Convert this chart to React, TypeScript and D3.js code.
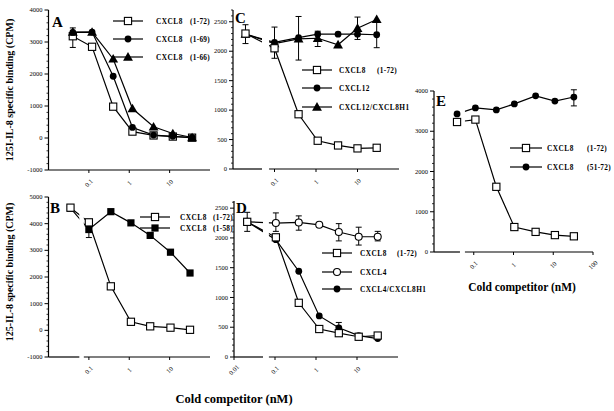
import React from 'react';
import * as d3 from 'd3';

const W = 614;
const H = 411;
const FONT = "'Liberation Serif','Times New Roman',Times,serif";

// ---------- DATA ----------
// Panel A
const concA = [0.04, 0.12, 0.4, 1.2, 4, 12, 36];
const a_1_72 = [3180, 2850, 980, 200, 80, 45, 10];
const a_1_69 = [3300, 3310, 1930, 330, 90, 55, 15];
const a_1_66 = [3310, 3310, 2470, 920, 350, 140, 15];
const errA_1_72 = [[0, 2830, 3440]];

// Panel B
const concB = [0.035, 0.1, 0.35, 1.1, 3.3, 10.5, 32];
const b_1_72 = [4600, 4050, 1650, 320, 150, 100, 20];
const b_1_58 = [4580, 3780, 4450, 4030, 3560, 2930, 2150];
const errB_1_58 = [[1, 3480, 4080]];

// Panel C
const concC = [0.02, 0.1, 0.38, 1.1, 3.4, 10, 29];
const c_1_72 = [2300, 2050, 930, 480, 400, 350, 360];
const c_12 = [2290, 2150, 2230, 2290, 2290, 2290, 2280];
const c_12h1 = [2290, 2130, 2210, 2220, 2110, 2390, 2540];
const errC_1_72 = [[0, 2130, 2450]];
const errC_12 = [[6, 2060, 2500]];
const errC_12h1 = [[1, 1880, 2410], [2, 1850, 2590], [3, 2080, 2340], [5, 2200, 2580]];

// Panel D
const concD = [0.021, 0.105, 0.38, 1.2, 3.6, 11, 32];
const d_1_72 = [2270, 2010, 910, 470, 400, 340, 360];
const d_4 = [2270, 2250, 2260, 2220, 2100, 2020, 2020];
const d_4h1 = [2270, 1970, 1440, 690, 490, 360, 310];
const errD_1_72 = [[0, 2110, 2430]];
const errD_4 = [[1, 2110, 2420], [2, 2130, 2370], [4, 1950, 2240], [5, 1880, 2180], [6, 1950, 2110]];
const errD_4h1 = [[4, 420, 580]];

// Panel E
const concE = [0.038, 0.11, 0.37, 1.05, 3.6, 11, 33];
const e_1_72 = [3230, 3290, 1620, 620, 500, 420, 390];
const e_51_72 = [3430, 3580, 3530, 3680, 3880, 3750, 3850];
const errE_51_72 = [[6, 3630, 4030]];

// Tick labels
const xTicksABC = [0.1, 1, 10];
const xTicksD = [0.01, 0.1, 1, 10];
const xTicksE = [0.1, 1, 10, 100];
const yTicksA = [-1000, 0, 1000, 2000, 3000, 4000];
const yTicksB = [-1000, 0, 1000, 2000, 3000, 4000, 5000];
const yTicksCD = [0, 500, 1000, 1500, 2000, 2500];
const yTicksE = [0, 1000, 2000, 3000, 4000];

// Legend labels
const legA = [['CXCL8', '(1-72)'], ['CXCL8', '(1-69)'], ['CXCL8', '(1-66)']];
const legB = [['CXCL8', '(1-72)'], ['CXCL8', '(1-58)']];
const legC = [['CXCL8', '(1-72)'], ['CXCL12', ''], ['CXCL12/CXCL8H1', '']];
const legD = [['CXCL8', '(1-72)'], ['CXCL4', ''], ['CXCL4/CXCL8H1', '']];
const legE = [['CXCL8', '(1-72)'], ['CXCL8', '(51-72)']];

const yLabelA = '125I-IL-8 specific binding (CPM)';
const yLabelB = '125-IL-8 specific binding (CPM)';
const xLabel = 'Cold competitor (nM)';

// ---------- RENDERING ----------
type Series = { conc: number[]; vals: number[]; marker: string; errs: number[][]; leg: number };

function Marker({ type, x, y }: { type: string; x: number; y: number }) {
  if (type === 'sq-open') return <rect x={x - 3.6} y={y - 3.6} width={7.2} height={7.2} fill="#fff" stroke="#000" strokeWidth={1.1} />;
  if (type === 'sq-fill') return <rect x={x - 3.6} y={y - 3.6} width={7.2} height={7.2} fill="#000" />;
  if (type === 'circ-fill') return <circle cx={x} cy={y} r={3.4} fill="#000" />;
  if (type === 'circ-open') return <circle cx={x} cy={y} r={3.5} fill="#fff" stroke="#000" strokeWidth={1.1} />;
  if (type === 'tri-fill') {
    const p = d3.symbol().type(d3.symbolTriangle).size(42)();
    return <path d={p || ''} transform={`translate(${x},${y + 0.8})`} fill="#000" />;
  }
  return null;
}

type PanelCfg = {
  id: string;
  letter: string;
  letterPos: [number, number];
  xRange: [number, number];
  yDomain: [number, number];
  yRange: [number, number];
  yTicks: number[];
  minor: number;
  xTicks: number[];
  gap: [number, number] | null;
  series: Series[];
  legend: string[][];
  legendMarkers: string[];
  legendRows: number[];
  legendLine: [number, number];
  legendText: number;
  legendSuffix: number;
};

function Panel({ cfg }: { cfg: PanelCfg }) {
  const xs = d3.scaleLog().domain([0.01, 100]).range(cfg.xRange);
  const ys = d3.scaleLinear().domain(cfg.yDomain).range(cfg.yRange);
  const ax = xs(0.01);
  const ay = cfg.yRange[0];
  const line = d3.line<[number, number]>().x((d) => xs(d[0])).y((d) => ys(d[1]));
  const clipId = `clip-${cfg.id}`;
  const g0 = cfg.gap ? xs(cfg.gap[0]) : 0;
  const g1 = cfg.gap ? xs(cfg.gap[1]) : 0;
  const xEnd = xs(100);
  const minors: number[] = [];
  for (let v = cfg.yDomain[0]; v <= cfg.yDomain[1] + 1e-6; v += cfg.minor) {
    if (!cfg.yTicks.includes(v)) minors.push(v);
  }
  return (
    <g>
      {cfg.gap && (
        <clipPath id={clipId}>
          <rect x={0} y={0} width={g0} height={H} />
          <rect x={g1} y={0} width={W - g1} height={H} />
        </clipPath>
      )}
      {/* axes */}
      <line x1={ax} x2={ax} y1={cfg.yRange[1]} y2={ay} stroke="#000" strokeWidth={1.2} />
      {cfg.gap ? (
        <>
          <line x1={ax} x2={g0} y1={ay} y2={ay} stroke="#000" strokeWidth={1.2} />
          <line x1={g1} x2={xEnd} y1={ay} y2={ay} stroke="#000" strokeWidth={1.2} />
        </>
      ) : (
        <line x1={ax} x2={xEnd} y1={ay} y2={ay} stroke="#000" strokeWidth={1.2} />
      )}
      {cfg.yTicks.map((t) => (
        <g key={`yt${t}`}>
          <line x1={ax - 4} x2={ax} y1={ys(t)} y2={ys(t)} stroke="#000" strokeWidth={1} />
          <text x={ax - 6} y={ys(t)} dy="0.33em" textAnchor="end" fontSize={6.5} fontFamily={FONT}>{t}</text>
        </g>
      ))}
      {minors.map((t) => (
        <line key={`ym${t}`} x1={ax - 2} x2={ax} y1={ys(t)} y2={ys(t)} stroke="#000" strokeWidth={0.8} />
      ))}
      {cfg.xTicks.map((t) => (
        <g key={`xt${t}`}>
          <line x1={xs(t)} x2={xs(t)} y1={ay} y2={ay + 3} stroke="#000" strokeWidth={1} />
          <text
            transform={`translate(${xs(t)},${ay + 13}) rotate(-45)`}
            textAnchor="middle"
            dy="0.33em"
            fontSize={6.5}
            fontFamily={FONT}
          >
            {String(t)}
          </text>
        </g>
      ))}
      {/* lines */}
      <g clipPath={cfg.gap ? `url(#${clipId})` : undefined}>
        {cfg.series.map((s, i) => (
          <path
            key={`l${i}`}
            d={line(s.conc.map((c, j) => [c, s.vals[j]] as [number, number])) || ''}
            fill="none"
            stroke="#000"
            strokeWidth={1.2}
          />
        ))}
      </g>
      {/* error bars */}
      {cfg.series.map((s, i) =>
        s.errs.map((e, k) => {
          const x = xs(s.conc[e[0]]);
          return (
            <g key={`e${i}-${k}`} stroke="#000" strokeWidth={1}>
              <line x1={x} x2={x} y1={ys(e[1])} y2={ys(e[2])} />
              <line x1={x - 3} x2={x + 3} y1={ys(e[1])} y2={ys(e[1])} />
              <line x1={x - 3} x2={x + 3} y1={ys(e[2])} y2={ys(e[2])} />
            </g>
          );
        })
      )}
      {/* markers */}
      {cfg.series.map((s, i) =>
        s.conc.map((c, j) => <Marker key={`m${i}-${j}`} type={s.marker} x={xs(c)} y={ys(s.vals[j])} />)
      )}
      {/* letter */}
      <text x={cfg.letterPos[0]} y={cfg.letterPos[1]} fontSize={15} fontWeight="bold" fontFamily={FONT}>
        {cfg.letter}
      </text>
      {/* legend */}
      {cfg.legend.map((lab, i) => {
        const y = cfg.legendRows[i];
        const mx = (cfg.legendLine[0] + cfg.legendLine[1]) / 2;
        return (
          <g key={`lg${i}`}>
            <line x1={cfg.legendLine[0]} x2={cfg.legendLine[1]} y1={y} y2={y} stroke="#000" strokeWidth={1.2} />
            <Marker type={cfg.legendMarkers[i]} x={mx} y={y} />
            <text x={cfg.legendText} y={y} dy="0.35em" fontSize={7.3} fontWeight="bold" letterSpacing={0.5} fontFamily={FONT}>
              {lab[0]}
            </text>
            {lab[1] && (
              <text x={cfg.legendText + cfg.legendSuffix} y={y} dy="0.35em" fontSize={7.3} fontWeight="bold" letterSpacing={0.3} fontFamily={FONT}>
                {lab[1]}
              </text>
            )}
          </g>
        );
      })}
    </g>
  );
}

export default function App() {
  const panels: PanelCfg[] = [
    {
      id: 'A', letter: 'A', letterPos: [52, 27],
      xRange: [48.5, 210], yDomain: [-1000, 4000], yRange: [170, 10], yTicks: yTicksA, minor: 200,
      xTicks: xTicksABC, gap: null,
      series: [
        { conc: concA, vals: a_1_72, marker: 'sq-open', errs: errA_1_72, leg: 0 },
        { conc: concA, vals: a_1_69, marker: 'circ-fill', errs: [], leg: 1 },
        { conc: concA, vals: a_1_66, marker: 'tri-fill', errs: [], leg: 2 },
      ],
      legend: legA, legendMarkers: ['sq-open', 'circ-fill', 'tri-fill'], legendRows: [21, 39, 57],
      legendLine: [113, 143], legendText: 156, legendSuffix: 34,
    },
    {
      id: 'B', letter: 'B', letterPos: [50, 213],
      xRange: [48.5, 210], yDomain: [-1000, 5000], yRange: [357, 197], yTicks: yTicksB, minor: 200,
      xTicks: xTicksABC, gap: [0.058, 0.075],
      series: [
        { conc: concB, vals: b_1_58, marker: 'sq-fill', errs: errB_1_58, leg: 1 },
        { conc: concB, vals: b_1_72, marker: 'sq-open', errs: [], leg: 0 },
      ],
      legend: legB, legendMarkers: ['sq-open', 'sq-fill'], legendRows: [217, 228],
      legendLine: [140, 170], legendText: 180, legendSuffix: 33,
    },
    {
      id: 'C', letter: 'C', letterPos: [235, 23],
      xRange: [233, 399], yDomain: [0, 2700], yRange: [169, 10], yTicks: yTicksCD, minor: 100,
      xTicks: xTicksABC, gap: [0.05, 0.074],
      series: [
        { conc: concC, vals: c_12, marker: 'circ-fill', errs: errC_12, leg: 1 },
        { conc: concC, vals: c_12h1, marker: 'tri-fill', errs: errC_12h1, leg: 2 },
        { conc: concC, vals: c_1_72, marker: 'sq-open', errs: errC_1_72, leg: 0 },
      ],
      legend: legC, legendMarkers: ['sq-open', 'circ-fill', 'tri-fill'], legendRows: [70, 88, 107],
      legendLine: [302, 332], legendText: 339, legendSuffix: 38,
    },
    {
      id: 'D', letter: 'D', letterPos: [236, 213],
      xRange: [234, 398], yDomain: [0, 2620], yRange: [357, 201], yTicks: yTicksCD, minor: 100,
      xTicks: xTicksD, gap: [0.051, 0.071],
      series: [
        { conc: concD, vals: d_4, marker: 'circ-open', errs: errD_4, leg: 1 },
        { conc: concD, vals: d_4h1, marker: 'circ-fill', errs: errD_4h1, leg: 2 },
        { conc: concD, vals: d_1_72, marker: 'sq-open', errs: errD_1_72, leg: 0 },
      ],
      legend: legD, legendMarkers: ['sq-open', 'circ-open', 'circ-fill'], legendRows: [253, 272, 289],
      legendLine: [322, 352], legendText: 360, legendSuffix: 37,
    },
    {
      id: 'E', letter: 'E', letterPos: [436, 106],
      xRange: [434, 593], yDomain: [0, 4000], yRange: [252, 91], yTicks: yTicksE, minor: 200,
      xTicks: xTicksE, gap: [0.045, 0.06],
      series: [
        { conc: concE, vals: e_51_72, marker: 'circ-fill', errs: errE_51_72, leg: 1 },
        { conc: concE, vals: e_1_72, marker: 'sq-open', errs: [], leg: 0 },
      ],
      legend: legE, legendMarkers: ['sq-open', 'circ-fill'], legendRows: [148, 167],
      legendLine: [510, 542], legendText: 547, legendSuffix: 40,
    },
  ];

  return (
    <svg width={W} height={H} style={{ position: 'absolute', left: 0, top: 0, background: '#fff' }}>
      <rect x={0} y={0} width={W} height={H} fill="#fff" />
      {panels.map((p) => <Panel key={p.id} cfg={p} />)}
      <text transform="translate(13,90) rotate(-90)" textAnchor="middle" fontSize={10} fontWeight="bold" fontFamily={FONT}>
        {yLabelA}
      </text>
      <text transform="translate(13,272) rotate(-90)" textAnchor="middle" fontSize={10} fontWeight="bold" fontFamily={FONT}>
        {yLabelB}
      </text>
      <text x={234} y={403} textAnchor="middle" fontSize={12.5} fontWeight="bold" fontFamily={FONT}>{xLabel}</text>
      <text x={522} y={291} textAnchor="middle" fontSize={11.5} fontWeight="bold" fontFamily={FONT}>{xLabel}</text>
    </svg>
  );
}
